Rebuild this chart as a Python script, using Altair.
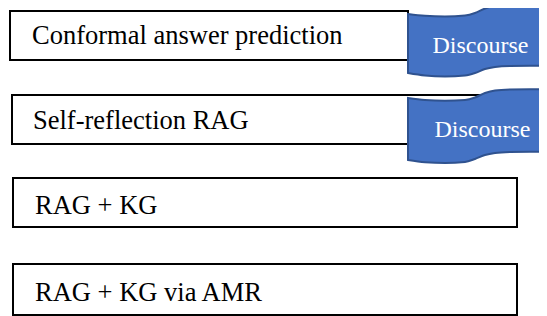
import altair as alt
import pandas as pd

# ---- content ----
box_labels = ["Conformal answer prediction", "Self-reflection RAG", "RAG + KG", "RAG + KG via AMR"]
flag_labels = ["Discourse", "Discourse"]

# ---- layout (page pixel units) ----
box_x1 = [10, 12, 13, 13]
box_x2 = [408, 517, 517, 517]
box_y1 = [11, 95, 178, 264]
box_y2 = [60, 144, 227, 315]
label_x = [32, 33, 35, 35]
label_y = [44, 129, 214, 301]

flag_x = [408, 425, 445, 465, 475, 485, 495, 510, 530, 547, 565]
flag1_top = [14, 15.8, 16.5, 15.5, 13, 8.5, 5.5, 4.2, 4, 4.2, 5]
flag1_bot = [73, 75.5, 76.5, 75.5, 73, 69, 67, 66, 65.8, 66, 67]
flag2_top = [98, 100, 100.8, 100, 97.5, 93, 90.5, 89.5, 89.2, 89.3, 90]
flag2_bot = [160, 162.3, 163, 162, 159, 155, 153, 152, 151.7, 151.8, 152.5]
flag_label_x = [480.5, 482.5]
flag_label_y = [53, 137]

boxes = pd.DataFrame({"x1": box_x1, "x2": box_x2, "y1": box_y1, "y2": box_y2,
                      "label": box_labels, "lx": label_x, "ly": label_y})
flags = pd.DataFrame({
    "flag": ["f1"] * len(flag_x) + ["f2"] * len(flag_x),
    "x": flag_x + flag_x,
    "top": flag1_top + flag2_top,
    "bot": flag1_bot + flag2_bot,
})
flag_text = pd.DataFrame({"label": flag_labels, "x": flag_label_x, "y": flag_label_y})

W, H = 531, 308
xs = alt.Scale(domain=[8, 8 + W], zero=False, nice=False)
ys = alt.Scale(domain=[8 + H, 8], zero=False, nice=False)
ax = None
SERIF = "Liberation Serif"

rects = alt.Chart(boxes).mark_rect(fill="white", stroke="black", strokeWidth=2).encode(
    x=alt.X("x1:Q", scale=xs, axis=ax), x2="x2:Q",
    y=alt.Y("y1:Q", scale=ys, axis=ax), y2="y2:Q",
)
texts = alt.Chart(boxes).mark_text(
    align="left", baseline="alphabetic", font=SERIF, fontSize=26.5, color="black"
).encode(
    x=alt.X("lx:Q", scale=xs, axis=ax),
    y=alt.Y("ly:Q", scale=ys, axis=ax),
    text="label:N",
)
flag_marks = alt.Chart(flags).mark_area(
    fill="#4472C4", fillOpacity=1, stroke="#2F528F", strokeWidth=2,
    interpolate="monotone", clip=True
).encode(
    x=alt.X("x:Q", scale=xs, axis=ax),
    y=alt.Y("top:Q", scale=ys, axis=ax), y2="bot:Q",
    detail="flag:N",
)
flag_texts = alt.Chart(flag_text).mark_text(
    align="center", baseline="alphabetic", font=SERIF, fontSize=24, color="white"
).encode(
    x=alt.X("x:Q", scale=xs, axis=ax),
    y=alt.Y("y:Q", scale=ys, axis=ax),
    text="label:N",
)

chart = alt.layer(rects, texts, flag_marks, flag_texts).properties(
    width=W, height=H, padding=0, autosize=alt.AutoSizeParams(type="none"), background="white"
).configure_view(stroke=None)

chart.save("out.html", embed_options={"renderer": "svg", "actions": False})
